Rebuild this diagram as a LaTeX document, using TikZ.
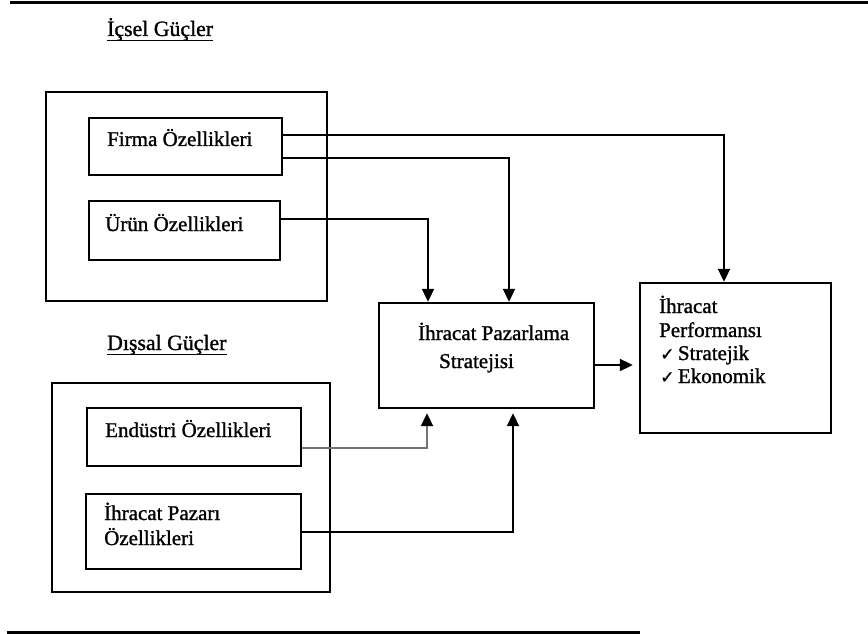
\documentclass[tikz,border=0pt]{standalone}
\usepackage{fontspec}
\setmainfont{Liberation Serif}[FakeBold=1.2]
\newfontfamily\symfont{DejaVu Sans}[FakeBold=1.2]
\usetikzlibrary{arrows.meta}

\tikzset{
  box/.style={draw, rectangle, line width=2.4pt, inner sep=0pt},
  txt/.style={anchor=base west, inner sep=0pt, font=\fontsize{21}{24}\selectfont},
  head/.style={anchor=base west, inner sep=0pt, font=\fontsize{21.8}{26}\selectfont},
  link/.style={line width=2pt, -{Triangle[length=13pt,width=12pt]}},
  faint/.style={line width=2pt, draw=black!55, -{Triangle[length=13pt,width=12pt,black]}},
  rule/.style={line width=3pt}
}

\begin{document}
\begin{tikzpicture}[x=1pt,y=-1pt]
\useasboundingbox (0,0) rectangle (868,634);

% horizontal rules framing the figure
\coordinate (rtl) at (10,3);
\coordinate (rtr) at (868,3);
\coordinate (rbl) at (7,632);
\coordinate (rbr) at (640,632);
\draw[rule] (rtl) -- (rtr);
\draw[rule] (rbl) -- (rbr);

% internal forces
\node[head] (hin) at (107,36) {İçsel Güçler};
\draw[line width=1.6pt] ([yshift=-4.5pt]hin.base west) -- ([yshift=-4.5pt]hin.base east);
\node[box, minimum width=281pt, minimum height=209pt] (outin) at (186.5,196.5) {};
\node[box, minimum width=193pt, minimum height=57pt] (firma) at (185.5,146.5) {};
\node[box, minimum width=191pt, minimum height=59pt] (urun) at (184.5,230.5) {};
\node[txt] (tfirma) at (107,146) {Firma Özellikleri};
\node[txt] (turun) at (105,231) {Ürün Özellikleri};

% external forces
\node[head] (hout) at (107,350) {Dışsal Güçler};
\draw[line width=1.6pt] ([yshift=-4.5pt]hout.base west) -- ([yshift=-4.5pt]hout.base east);
\node[box, minimum width=278pt, minimum height=209pt] (outex) at (191,487.5) {};
\node[box, minimum width=214pt, minimum height=58pt] (endus) at (194,437) {};
\node[box, minimum width=215pt, minimum height=75pt] (pazar) at (193.5,531.5) {};
\node[txt] (tendus) at (105,437) {Endüstri Özellikleri};
\node[txt] (tpaz1) at (104,520) {İhracat Pazarı};
\node[txt] (tpaz2) at (104,545) {Özellikleri};

% strategy
\node[box, minimum width=215pt, minimum height=105pt] (strat) at (486.5,355.5) {};
\node[txt] (tstrat1) at (418,340) {İhracat Pazarlama};
\node[txt] (tstrat2) at (439,368) {Stratejisi};

% performance
\node[box, minimum width=191pt, minimum height=150pt] (perf) at (735.5,358) {};
\node[txt] (tperf1) at (659,313) {İhracat};
\node[txt] (tperf2) at (659,337) {Performansı};
\node[txt] (tperf3) at (660,360) {{\symfont\fontsize{17}{17}\selectfont ✓}\,Stratejik};
\node[txt] (tperf4) at (660,383) {{\symfont\fontsize{17}{17}\selectfont ✓}\,Ekonomik};

% connectors
\draw[link] ([yshift=11.5pt]firma.east) -| ([xshift=-11.5pt]perf.north);
\draw[link] ([yshift=-11.5pt]firma.east) -| ([xshift=22.5pt]strat.north);
\draw[link] ([yshift=11.5pt]urun.east) -| ([xshift=-58.5pt]strat.north);
\draw[faint, shorten >=4pt] ([yshift=-11pt]endus.east) -| ([xshift=-59.5pt]strat.south);
\draw[link, shorten >=4pt] (pazar.east) -| ([xshift=26.5pt]strat.south);
\draw[link, shorten >=6pt] ([yshift=-9.5pt]strat.east) -- ([yshift=-7pt]perf.west);
\end{tikzpicture}
\end{document}
